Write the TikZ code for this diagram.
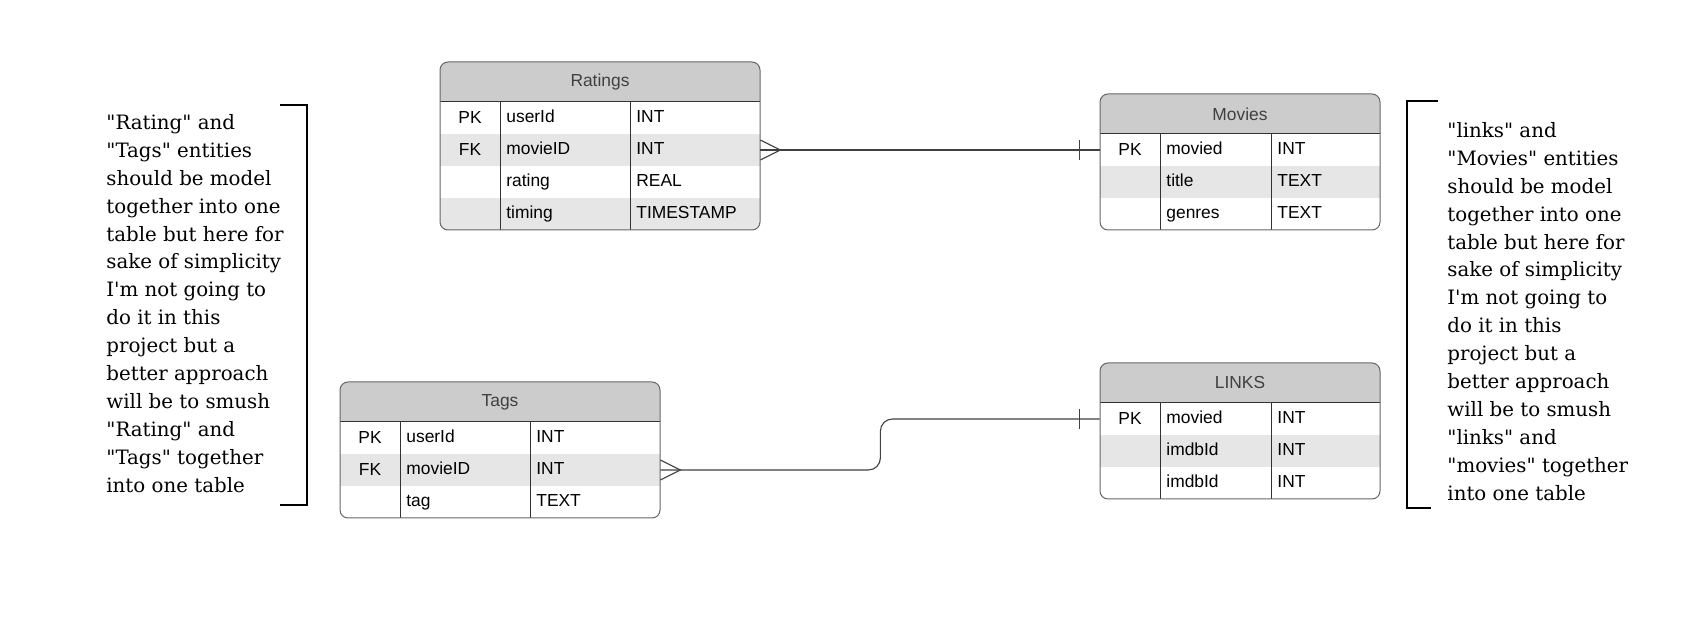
\documentclass[tikz,border=0pt]{standalone}
\usepackage{fontspec}
\newfontfamily\tblfont{Liberation Sans}
\newfontfamily\notefont{DejaVu Serif}

\definecolor{hdrgray}{HTML}{CCCCCC}
\definecolor{rowgray}{HTML}{E6E6E6}

\tikzset{
  cell/.style = {font=\tblfont\fontsize{8.7}{10}\selectfont, text=black, inner sep=0pt},
  title/.style = {font=\tblfont\fontsize{8.7}{10}\selectfont, text=black!75, inner sep=0pt},
  rowbox/.style = {inner sep=0pt, minimum height=16pt},
  link/.style = {line width=0.55pt, draw=black!75},
  note/.style = {font=\notefont\fontsize{9.9}{13.95}\selectfont, align=left, inner sep=0pt, anchor=north west, text=black},
  bracket/.style = {line width=0.6pt, draw=black}
}

% #1 name, #2 left, #3 top, #4 width, #5 type column, #6 rows, #7 title, #8 key/field/type list
\newcommand{\ertable}[8]{
\begin{scope}[shift={(#2,#3)}]
  \pgfmathsetmacro{\tblh}{40+32*#6}
  \begin{scope}
    \clip[rounded corners=4pt] (0,0) rectangle (#4,\tblh);
    \fill[hdrgray] (0,0) rectangle (#4,40);
    \foreach \k/\f/\t [count=\i] in {#8} {
      \ifodd\i\else \fill[rowgray] (0,8+32*\i) rectangle (#4,40+32*\i); \fi
    }
  \end{scope}
  \node[title] (#1) at (#4/2,20) {#7};
  \foreach \k/\f/\t [count=\i] in {#8} {
    \node[rowbox, minimum width={#4*0.5pt}] (#1-r\i) at (#4/2,24+32*\i) {};
    \node[cell] at (30,24+32*\i) {\k};
    \node[cell, anchor=mid west] at (66,24+32*\i) {\f};
    \node[cell, anchor=mid west] at (#5+6,24+32*\i) {\t};
  }
  \draw[line width=0.5pt, black!80] (0,40) -- (#4,40) (60,40) -- (60,\tblh) (#5,40) -- (#5,\tblh);
  \draw[line width=0.5pt, black!60, rounded corners=4pt] (0,0) rectangle (#4,\tblh);
\end{scope}}

\begin{document}
\begin{tikzpicture}[x=0.5pt, y=-0.5pt]
\path[fill=white, use as bounding box] (0,0) rectangle (1692,640);

\ertable{rat}{440}{62}{320}{190}{4}{Ratings}{PK/userId/INT, FK/movieID/INT, {}/rating/REAL, {}/timing/TIMESTAMP}
\ertable{mov}{1100}{94}{280}{171}{3}{Movies}{PK/movied/INT, {}/title/TEXT, {}/genres/TEXT}
\ertable{tag}{340}{382}{320}{190}{3}{Tags}{PK/userId/INT, FK/movieID/INT, {}/tag/TEXT}
\ertable{lnk}{1100}{363}{280}{171}{3}{LINKS}{PK/movied/INT, {}/imdbId/INT, {}/imdbId/INT}

% ratings -> movies
\draw[link] (rat-r2.east) -- (mov-r1.west);
\draw[link] ([yshift=5pt]rat-r2.east) -- ([xshift=10pt]rat-r2.east) -- ([yshift=-5pt]rat-r2.east);
\draw[link] ([xshift=-10pt,yshift=5pt]mov-r1.west) -- ([xshift=-10pt,yshift=-5pt]mov-r1.west);

% tags -> links
\draw[link, rounded corners=6pt] (tag-r2.east) -- ++(220,0) |- (lnk-r1.west);
\draw[link] ([yshift=5pt]tag-r2.east) -- ([xshift=10pt]tag-r2.east) -- ([yshift=-5pt]tag-r2.east);
\draw[link] ([xshift=-10pt,yshift=5pt]lnk-r1.west) -- ([xshift=-10pt,yshift=-5pt]lnk-r1.west);

% side notes
\node[note] (lnote) at (106,114) {"Rating" and\\ "Tags" entities\\ should be model\\ together into one\\ table but here for\\ sake of simplicity\\ I'm not going to\\ do it in this\\ project but a\\ better approach\\ will be to smush\\ "Rating" and\\ "Tags" together\\ into one table};
\draw[bracket] (280,105) -- (307,105) -- (307,505) -- (280,505);

\node[note] (rnote) at (1447,122) {"links" and\\ "Movies" entities\\ should be model\\ together into one\\ table but here for\\ sake of simplicity\\ I'm not going to\\ do it in this\\ project but a\\ better approach\\ will be to smush\\ "links" and\\ "movies" together\\ into one table};
\draw[bracket] (1438,101) -- (1407,101) -- (1407,508) -- (1431,508);
\end{tikzpicture}
\end{document}
